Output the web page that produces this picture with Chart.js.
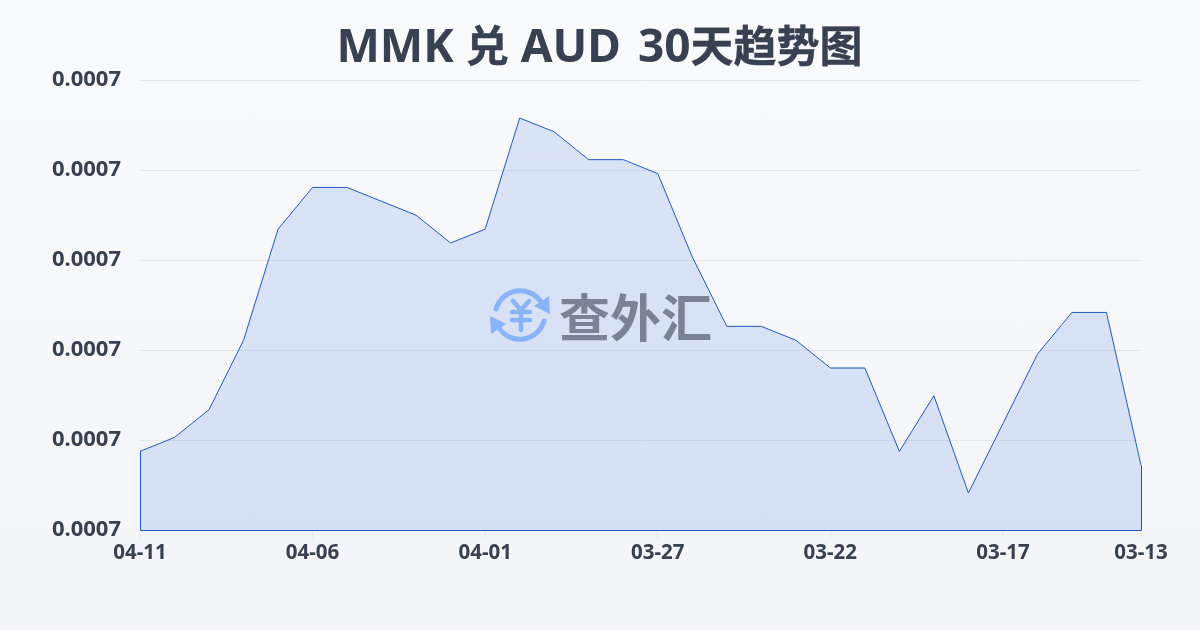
<!DOCTYPE html>
<html lang="zh">
<head>
<meta charset="utf-8">
<title>MMK 兑 AUD 30天趋势图</title>
<script src="https://cdn.jsdelivr.net/npm/chart.js@4/dist/chart.umd.min.js"></script>
<style>
  html, body { margin: 0; padding: 0; }
  body { width: 1200px; height: 630px; overflow: hidden; background: linear-gradient(180deg, #f9fafc 0%, #f3f5f8 100%); position: relative; }
  #grafico { position: absolute; left: 0; top: 0; }
  #titulo { position: absolute; left: 0; top: 11px; width: 1199px; margin: 0; text-align: center; font: 700 46px/64px "Noto Sans", "Noto Sans CJK SC"; color: #374151; white-space: pre; }
  #titulo b { font: 700 43px/64px "Noto Sans CJK SC"; -webkit-text-stroke: 0.4px #374151; }
  #titulo i { font-style: normal; margin-left: 5px; }
  #marca { position: absolute; left: 489px; top: 284px; width: 230px; height: 62px; }
  #marca svg { position: absolute; left: 0; top: 0; }
  #marca span { position: absolute; left: 70px; top: -7px; font: 700 51px/76px "Noto Sans CJK SC"; color: #7a8293; white-space: nowrap; }
</style>
</head>
<body>
<canvas id="grafico" width="1200" height="630"></canvas>
<h1 id="titulo">MMK <b>兑</b> AUD <i>30</i><b>天趋势图</b></h1>
<div id="marca">
  <svg width="64" height="62" viewBox="0 0 64 62" fill="none" stroke="#8ab4f8" stroke-width="5" stroke-linecap="round">
    <path d="M7 25 A25 25 0 0 1 52 18"/>
    <path d="M55 37 A25 25 0 0 1 10 44"/>
    <path d="M60 12 L61 30 L45 22 Z" fill="#8ab4f8" stroke="none"/>
    <path d="M2 50 L1 32 L17 40 Z" fill="#8ab4f8" stroke="none"/>
    <path d="M24 17 L32 26 L40 17 M23 28 H41 M23 36 H41 M32 26 V46" stroke-width="4.5"/>
  </svg>
  <span>查外汇</span>
</div>
<script>
// Fechas del eje X (de la más reciente a la más antigua)
const fechas = ["04-11","04-10","04-09","04-08","04-07","04-06","04-05","04-04","04-03","04-02",
  "04-01","03-31","03-30","03-29","03-28","03-27","03-26","03-25","03-24","03-23",
  "03-22","03-21","03-20","03-19","03-18","03-17","03-16","03-15","03-14","03-13"];
// Tipo de cambio
const valores = [0.000686,0.000687,0.000689,0.000694,0.000702,0.000705,0.000705,0.000704,0.000703,0.000701,
  0.000702,0.000710,0.000709,0.000707,0.000707,0.000706,0.000700,0.000695,0.000695,0.000694,
  0.000692,0.000692,0.000686,0.000690,0.000683,0.000688,0.000693,0.000696,0.000696,0.000685];
const ticksY = [0.000680336,0.000686815,0.000693295,0.000699775,0.000706255,0.000712736];
const ticksX = ["04-11","04-06","04-01","03-27","03-22","03-17","03-13"];

const colorTexto = "#374151";
const colorLinea = "#1f58c4";

// Cierra el contorno del área: lados izquierdo, derecho e inferior
const contorno = {
  id: "contorno",
  afterDatasetsDraw(chart) {
    const { ctx, scales: { x, y } } = chart;
    const ultimo = valores.length - 1;
    const base = y.getPixelForValue(ticksY[0]) + 0.5;
    ctx.save();
    ctx.strokeStyle = colorLinea;
    ctx.lineWidth = 1;
    ctx.beginPath();
    ctx.moveTo(x.getPixelForValue(0) + 0.5, y.getPixelForValue(valores[0]));
    ctx.lineTo(x.getPixelForValue(0) + 0.5, base);
    ctx.lineTo(x.getPixelForValue(ultimo) + 0.5, base);
    ctx.lineTo(x.getPixelForValue(ultimo) + 0.5, y.getPixelForValue(valores[ultimo]));
    ctx.stroke();
    ctx.restore();
  }
};

new Chart(document.getElementById("grafico"), {
  type: "line",
  data: {
    labels: fechas,
    datasets: [{
      data: valores,
      borderColor: colorLinea,
      borderWidth: 1,
      backgroundColor: "rgba(59,107,225,0.155)",
      fill: "start",
      pointRadius: 0,
      tension: 0
    }]
  },
  plugins: [contorno],
  options: {
    responsive: false,
    animation: false,
    devicePixelRatio: 1,
    layout: { padding: { left: 0, right: 59, top: 80, bottom: 0 } },
    plugins: {
      legend: { display: false },
      tooltip: { enabled: false },
      title: { display: false }
    },
    scales: {
      x: {
        offset: false,
        afterFit(escala) { escala.height = 100; },
        grid: {
          drawOnChartArea: false,
          drawTicks: true,
          tickLength: 8,
          tickColor: ctx => ticksX.includes(fechas[ctx.index]) ? "#e5e7eb" : "transparent"
        },
        border: { display: false },
        ticks: {
          autoSkip: false,
          maxRotation: 0,
          padding: 3,
          color: colorTexto,
          font: { family: '"Noto Sans"', size: 20.5, weight: "700" },
          callback(valor) {
            const etiqueta = this.getLabelForValue(valor);
            return ticksX.includes(etiqueta) ? etiqueta : "";
          }
        }
      },
      y: {
        min: ticksY[0],
        max: ticksY[ticksY.length - 1],
        afterFit(escala) { escala.width = 140; },
        afterBuildTicks(escala) { escala.ticks = ticksY.map(value => ({ value })); },
        grid: { color: "#e5e7eb", lineWidth: 1, drawTicks: false },
        border: { display: false },
        ticks: {
          padding: 19,
          color: colorTexto,
          font: { family: '"Noto Sans"', size: 22, weight: "700" },
          callback(valor) { return valor.toFixed(4); }
        }
      }
    }
  }
});
</script>
</body>
</html>
